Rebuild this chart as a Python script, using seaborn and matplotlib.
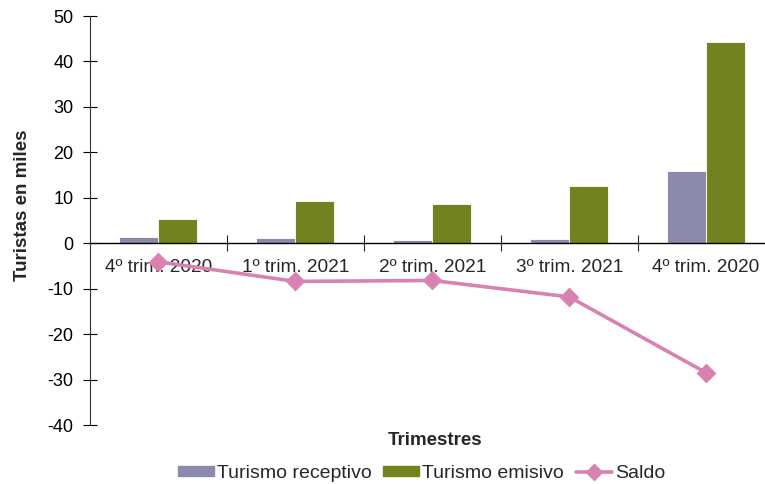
import pandas as pd
import seaborn as sns
import matplotlib.pyplot as plt
from matplotlib.lines import Line2D
from matplotlib.patches import Patch

# Datos (miles de turistas)
trimestres = ['4º trim. 2020', '1º trim. 2021', '2º trim. 2021', '3º trim. 2021', '4º trim. 2020']
receptivo = [1.3, 1.1, 0.7, 1.0, 15.9]
emisivo = [5.3, 9.3, 8.7, 12.6, 44.3]
saldo = [-4.1, -8.4, -8.2, -11.8, -28.5]

pos = list(range(len(trimestres)))
df = pd.DataFrame({
    'pos': pos * 2,
    'valor': receptivo + emisivo,
    'serie': ['Turismo receptivo'] * 5 + ['Turismo emisivo'] * 5,
})

c_rec = '#8a8aae'
c_emi = '#73821e'
c_sal = '#d982b0'

sns.set_style('white')
plt.rcParams['font.family'] = ['Liberation Sans', 'DejaVu Sans']
plt.rcParams['axes.unicode_minus'] = False

fig = plt.figure(figsize=(7.65, 4.84), dpi=100)
ax = fig.add_axes([0.1176, 0.1219, 0.8824, 0.845])

sns.barplot(data=df, x='pos', y='valor', hue='serie', palette=[c_rec, c_emi],
            width=0.57, gap=0, saturation=1, edgecolor='white', linewidth=0.6,
            legend=False, ax=ax)
sns.pointplot(x=pos, y=saldo, color=c_sal, markers='D', markersize=8,
              linewidth=2.6, ax=ax)

ax.set_ylim(-40, 50)
ax.set_xlim(-0.5, 4.43)
ax.set_yticks(range(-40, 51, 10))
ax.tick_params(axis='y', left=True, direction='inout', length=9.5, width=0.8,
               labelsize=13, pad=7, colors='black')

# eje x en cero, marcas entre categorias
for s in ['top', 'right']:
    ax.spines[s].set_visible(False)
ax.spines['bottom'].set_position(('data', 0))
ax.spines['bottom'].set_color('black')
ax.spines['bottom'].set_linewidth(1)
ax.spines['left'].set_color('#333333')
ax.spines['left'].set_linewidth(0.8)
ax.set_xticks([0.5, 1.5, 2.5, 3.5])
ax.set_xticklabels([])
ax.tick_params(axis='x', which='major', bottom=True, direction='inout', length=12, width=0.8)
ax.set_xticks(pos, minor=True)
ax.set_xticklabels(trimestres, minor=True)
ax.tick_params(axis='x', which='minor', bottom=True, length=0, labelsize=13.7, pad=11)

ax.set_xlabel('')
ax.set_ylabel('Turistas en miles', fontsize=13.5, fontweight='bold')
ax.yaxis.set_label_coords(-0.087, 0.538)
fig.text(0.569, 0.089, 'Trimestres', fontsize=13.5, fontweight='bold', ha='center', va='center')

handles = [
    Patch(color=c_rec, label='Turismo receptivo'),
    Patch(color=c_emi, label='Turismo emisivo'),
    Line2D([0], [0], color=c_sal, lw=2.6, marker='D', markersize=8, label='Saldo'),
]
fig.legend(handles=handles, loc='center', bbox_to_anchor=(0.551, 0.022), ncol=3,
           frameon=False, fontsize=14, handlelength=1.85, handleheight=0.45,
           handletextpad=0.15, columnspacing=0.6)

plt.savefig('out.png', dpi=100)
